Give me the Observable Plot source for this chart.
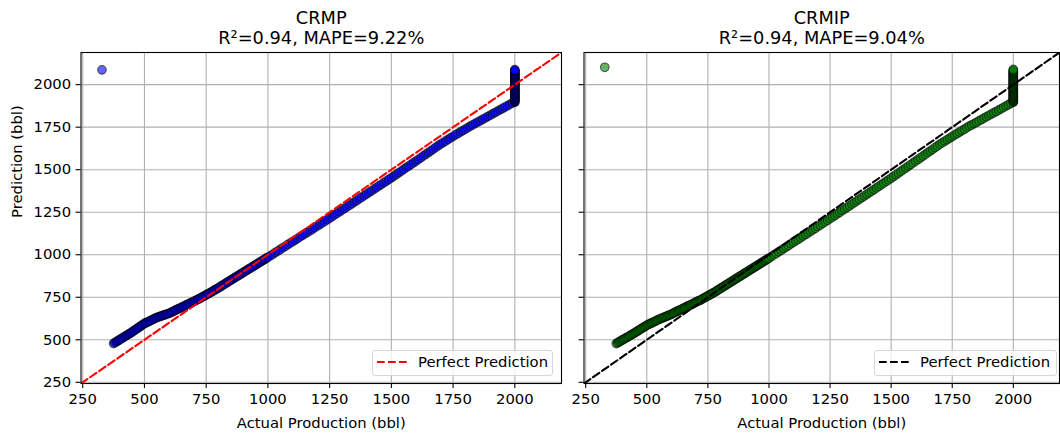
<!DOCTYPE html>
<html><head><meta charset="utf-8">
<script src="https://cdn.jsdelivr.net/npm/d3@7"></script>
<script src="https://cdn.jsdelivr.net/npm/@observablehq/plot@0.6"></script>
<style>
body{margin:0;background:#fff;font-family:"DejaVu Sans",sans-serif;}
#root{position:relative;width:1060px;height:437px;overflow:hidden;background:#fff}
.panel{position:absolute;top:0}
.legend{position:absolute;box-sizing:border-box;border:1px solid #d6d6d6;border-radius:3px;background:rgba(255,255,255,0.8);font-size:14.8px;color:#000}
.legend svg{position:absolute;left:0;top:0}
.legend span{position:absolute;white-space:nowrap;line-height:14px}
</style></head>
<body><div id="root"></div>
<script>
const ticks = [250, 500, 750, 1000, 1250, 1500, 1750, 2000];
const perfect = [243, 2189];
const titles = [["CRMP", "R²=0.94, MAPE=9.22%"], ["CRMIP", "R²=0.94, MAPE=9.04%"]];
const legendLabel = "Perfect Prediction";

const actual = [328,
375,380,385,390,395,400,405,410,415,420,425,430,435,440,445,450,455,460,465,470,475,480,485,490,495,500,
505,510,515,520,525,530,535,540,545,550,555,560,565,570,575,580,585,590,595,600,
605,610,615,620,625,630,635,640,645,650,655,660,665,670,675,680,685,690,695,700,
705,710,715,720,725,730,735,740,745,750,755,760,765,770,775,780,785,790,795,800,
805,810,815,820,825,830,835,840,845,850,855,860,865,870,875,880,885,890,895,900,
905,910,915,920,925,930,935,940,945,950,955,960,965,970,975,980,985,990,995,1000,
1010,1020,1030,1040,1050,1060,1070,1080,1090,1100,1110,1120,1130,1140,1150,1160,1170,1180,1190,1200,1210,1220,1230,1240,1250,
1260,1270,1280,1290,1300,1310,1320,1330,1340,1350,1360,1370,1380,1390,1400,1410,1420,1430,1440,1450,1460,1470,1480,1490,1500,
1510,1520,1530,1540,1550,1560,1570,1580,1590,1600,1610,1620,1630,1640,1650,1660,1670,1680,1690,1700,1710,1720,1730,1740,1750,
1760,1770,1780,1790,1800,1810,1820,1830,1840,1850,1860,1870,1880,1890,1900,1910,1920,1930,1940,1950,1960,1970,1980,1990,
2000,2000,2000,2000,2000,2000,2000,2000,2000,2000,2000,2000,2000,2000,2000,2000,2000,2000,2000,2000,2000,2000,2000,2000,2000,
2000,2000,2000,2000,2000,2000,2000,2000,2000,2000,2000,2000,2000,2000,2000,2000,2000,2000,2000,2000,2000,2000,2000,2000];

const crmp = [2087,
478,483,487,492,496,501,505,510,514,519,523,528,532,537,541,546,551,556,561,566,571,576,581,586,591,596,
599,603,606,610,613,617,620,624,627,631,633,636,638,641,643,646,648,651,653,656,
659,663,666,670,673,677,680,684,687,691,694,698,701,705,708,712,715,719,722,726,
729,733,736,740,744,748,752,756,760,764,768,772,776,780,784,789,793,797,801,806,
810,815,819,824,828,833,837,842,846,851,855,860,864,869,873,878,882,887,891,896,
900,905,909,914,918,922,927,931,936,940,945,949,954,958,963,967,972,976,981,985,
994,1003,1013,1022,1031,1040,1049,1059,1068,1077,1086,1095,1105,1114,1123,1132,1141,1150,1160,1169,1178,1187,1196,1206,1215,
1224,1234,1243,1253,1262,1272,1281,1291,1300,1310,1319,1329,1338,1348,1357,1367,1376,1386,1395,1405,1414,1424,1433,1443,1452,
1462,1472,1482,1492,1502,1512,1521,1531,1541,1551,1561,1571,1581,1591,1601,1611,1621,1631,1641,1651,1660,1669,1678,1687,1696,
1705,1713,1722,1730,1739,1747,1756,1764,1772,1780,1788,1796,1804,1812,1820,1828,1836,1844,1852,1860,1868,1876,1884,1892,
1896,1900,1904,1908,1912,1916,1920,1924,1928,1932,1936,1940,1944,1948,1952,1956,1960,1964,1968,1972,1976,1980,1984,1988,1992,
1996,2000,2004,2008,2012,2016,2020,2024,2028,2032,2036,2040,2044,2048,2052,2056,2060,2064,2068,2072,2076,2080,2084,2088];

const crmip = [2102,
478,482,486,490,495,499,503,507,511,515,519,523,528,532,536,540,545,549,554,558,563,567,572,576,581,585,
589,592,596,599,603,606,610,613,617,620,623,626,629,632,635,638,641,644,647,650,
654,657,661,664,668,671,675,678,682,685,689,692,696,699,703,706,710,713,717,720,
724,727,731,734,738,742,746,750,754,758,762,766,770,774,778,782,787,791,796,800,
805,809,814,818,823,827,832,836,841,845,850,854,859,863,868,872,877,881,886,890,
895,899,904,908,913,917,922,926,931,935,940,944,949,953,958,962,967,971,976,980,
989,999,1008,1017,1026,1036,1045,1054,1064,1073,1082,1091,1101,1110,1119,1128,1138,1147,1156,1166,1175,1184,1193,1203,1212,
1222,1231,1241,1250,1260,1269,1279,1288,1298,1307,1317,1326,1336,1345,1355,1364,1374,1383,1393,1402,1412,1421,1431,1440,1450,
1460,1470,1480,1490,1500,1510,1520,1530,1540,1550,1560,1570,1580,1590,1600,1610,1620,1630,1640,1650,1659,1668,1677,1686,1695,
1704,1713,1721,1730,1738,1747,1756,1763,1771,1779,1787,1795,1803,1811,1819,1827,1835,1842,1850,1858,1866,1874,1882,1890,
1896,1900,1904,1908,1912,1916,1920,1924,1928,1932,1936,1940,1944,1948,1952,1956,1960,1964,1968,1972,1976,1980,1984,1988,1992,
1996,2000,2004,2008,2012,2016,2020,2024,2028,2032,2036,2040,2044,2048,2052,2056,2060,2064,2068,2072,2076,2080,2084,2090];

const root = document.getElementById("root");

function panel({left, width, marginLeft, marginRight, pred, fill, lineColor, title, yLabels}) {
  const rows = actual.map((a, i) => ({a, p: pred[i]}));
  const marks = [
    Plot.gridX(ticks, {stroke: "#b0b0b0", strokeOpacity: 1, strokeWidth: 1.1}),
    Plot.gridY(ticks, {stroke: "#b0b0b0", strokeOpacity: 1, strokeWidth: 1.1}),
    Plot.dot(rows, {x: "a", y: "p", r: 4.3, fill, fillOpacity: 0.6, stroke: "black", strokeOpacity: 0.6, strokeWidth: 1.1}),
    Plot.line(perfect, {x: d => d, y: d => d, stroke: lineColor, strokeWidth: 2.1, strokeDasharray: "7.7,3.3", clip: true}),
    Plot.frame({stroke: "black", strokeWidth: 1.1}),
    Plot.axisX(ticks, {tickSize: 4.9, tickPadding: 4.9, label: null, tickFormat: d => String(d), strokeWidth: 1.1}),
    Plot.axisY(ticks, {tickSize: 4.9, tickPadding: 4.9, label: null, tickFormat: yLabels ? (d => String(d)) : (() => ""), strokeWidth: 1.1}),
    Plot.text([title[0]], {frameAnchor: "top", dy: -29, lineAnchor: "bottom", fontSize: 17.8}),
    Plot.text([title[1]], {frameAnchor: "top", dy: -9, lineAnchor: "bottom", fontSize: 17.8}),
    Plot.text(["Actual Production (bbl)"], {frameAnchor: "bottom", dy: 44, lineAnchor: "bottom"})
  ];
  if (yLabels) marks.push(Plot.text(["Prediction (bbl)"], {frameAnchor: "left", dx: -64, rotate: -90, lineAnchor: "middle"}));
  const svg = Plot.plot({
    width, height: 437, marginLeft, marginRight, marginTop: 52, marginBottom: 54,
    style: {fontFamily: "DejaVu Sans", fontSize: "14.8px", background: "transparent", color: "black", overflow: "visible"},
    x: {domain: [243, 2189]},
    y: {domain: [243, 2189]},
    marks
  });
  svg.classList.add("panel");
  svg.style.left = left + "px";
  root.appendChild(svg);
}

panel({left: 0, width: 562, marginLeft: 80.5, marginRight: 1, pred: crmp, fill: "blue", lineColor: "red", title: titles[0], yLabels: true});
panel({left: 562, width: 498, marginLeft: 21.5, marginRight: 1, pred: crmip, fill: "green", lineColor: "black", title: titles[1], yLabels: false});

function legend(x0, x1, color) {
  const d = document.createElement("div");
  d.className = "legend";
  d.style.left = x0 + "px"; d.style.top = "350px";
  d.style.width = (x1 - x0) + "px"; d.style.height = "26px";
  d.innerHTML = `<svg width="40" height="24"><line x1="4" x2="34" y1="11" y2="11" stroke="${color}" stroke-width="2.1" stroke-dasharray="7.7,3.3"/></svg><span style="left:45px;top:3.5px">${legendLabel}</span>`;
  root.appendChild(d);
}
legend(372, 553, "red");
legend(874, 1057, "black");
</script></body></html>
